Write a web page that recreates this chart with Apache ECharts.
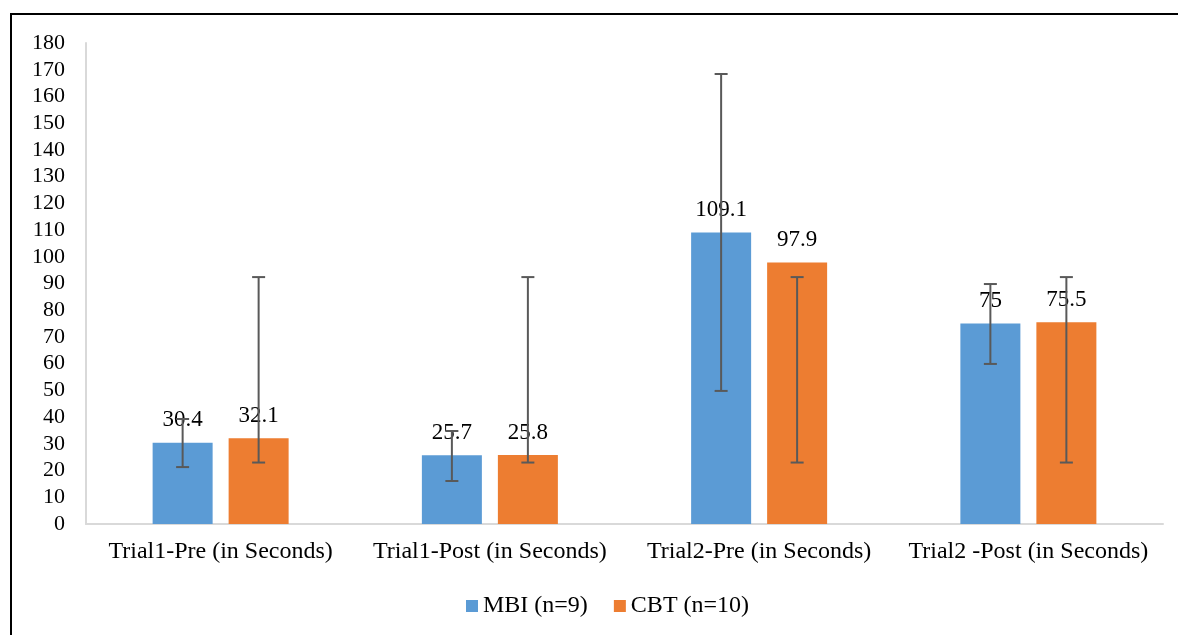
<!DOCTYPE html>
<html>
<head>
<meta charset="utf-8">
<script src="https://cdn.jsdelivr.net/npm/echarts@6/dist/echarts.min.js"></script>
<style>
  html, body { margin: 0; padding: 0; background: #fff; }
  #chart { width: 1178px; height: 635px; }
</style>
</head>
<body>
<div id="chart"></div>
<script>
// Mean completion time per trial, with error bar ends (low / high)
const categories = [
  'Trial1-Pre (in Seconds)',
  'Trial1-Post (in Seconds)',
  'Trial2-Pre (in Seconds)',
  'Trial2 -Post (in Seconds)'
];
const seriesNames = ['MBI (n=9)', 'CBT (n=10)'];
const mbiValues = [30.4, 25.7, 109.1, 75];
const cbtValues = [32.1, 25.8, 97.9, 75.5];
const mbiErrLow  = [21.3, 16.1, 49.8, 59.9];
const mbiErrHigh = [39.3, 34.8, 168.4, 89.8];
const cbtErrLow  = [23.0, 23.0, 23.0, 23.0];
const cbtErrHigh = [92.4, 92.4, 92.4, 92.4];
const yTicks = { min: 0, max: 180, interval: 10 };

const FONT = '"Liberation Serif", "Times New Roman", serif';
const BAR_W = 60;
const BAR_GAP_PX = 16;
const colors = ['#5b9bd5', '#ed7d31'];

// error bars drawn through the category axis, shifted to each bar's centre
function errorSeries(low, high, side) {
  const offset = side * (BAR_W + BAR_GAP_PX) / 2;
  return {
    type: 'custom',
    name: 'err' + side,
    silent: true,
    z: 5,
    data: low.map((l, i) => [i, l, high[i]]),
    renderItem: function (params, api) {
      const lowPt = api.coord([api.value(0), api.value(1)]);
      const highPt = api.coord([api.value(0), api.value(2)]);
      const x = lowPt[0] + offset;
      const cap = 6.5;
      const style = { stroke: '#595959', lineWidth: 2 };
      return {
        type: 'group',
        children: [
          { type: 'line', shape: { x1: x, y1: highPt[1], x2: x, y2: lowPt[1] }, style: style },
          { type: 'line', shape: { x1: x - cap, y1: highPt[1], x2: x + cap, y2: highPt[1] }, style: style },
          { type: 'line', shape: { x1: x - cap, y1: lowPt[1], x2: x + cap, y2: lowPt[1] }, style: style }
        ]
      };
    }
  };
}

const chart = echarts.init(document.getElementById('chart'), null, { renderer: 'canvas' });

const labelStyle = {
  show: true,
  position: 'top',
  distance: 11,
  color: '#000',
  fontFamily: FONT,
  fontSize: 23
};

chart.setOption({
  animation: false,
  backgroundColor: '#fff',
  color: colors,
  textStyle: { fontFamily: FONT },
  graphic: [{
    type: 'rect',
    shape: { x: 11, y: 14, width: 1200, height: 660 },
    style: { fill: 'none', stroke: '#000', lineWidth: 2 },
    silent: true,
    z: 100
  }],
  grid: { left: 86, right: 15, top: 43, bottom: 111, containLabel: false },
  legend: {
    data: seriesNames,
    bottom: 12,
    left: 461,
    itemWidth: 12,
    itemHeight: 12,
    itemGap: 26,
    icon: 'rect',
    textStyle: { fontFamily: FONT, fontSize: 24, color: '#000' }
  },
  xAxis: {
    type: 'category',
    data: categories,
    axisLine: { lineStyle: { color: '#d9d9d9', width: 2 } },
    axisTick: { show: false },
    axisLabel: { color: '#000', fontFamily: FONT, fontSize: 24, margin: 16, interval: 0 }
  },
  yAxis: {
    type: 'value',
    min: yTicks.min,
    max: yTicks.max,
    interval: yTicks.interval,
    axisLine: { show: true, lineStyle: { color: '#d9d9d9', width: 2 } },
    axisTick: { show: false },
    splitLine: { show: false },
    axisLabel: { color: '#000', fontFamily: FONT, fontSize: 22, margin: 21 }
  },
  series: [
    {
      name: seriesNames[0],
      type: 'bar',
      data: mbiValues,
      barWidth: BAR_W,
      barGap: (BAR_GAP_PX / BAR_W * 100) + '%',
      itemStyle: { color: colors[0] },
      label: labelStyle
    },
    {
      name: seriesNames[1],
      type: 'bar',
      data: cbtValues,
      barWidth: BAR_W,
      itemStyle: { color: colors[1] },
      label: labelStyle
    },
    errorSeries(mbiErrLow, mbiErrHigh, -1),
    errorSeries(cbtErrLow, cbtErrHigh, 1)
  ]
});
</script>
</body>
</html>
